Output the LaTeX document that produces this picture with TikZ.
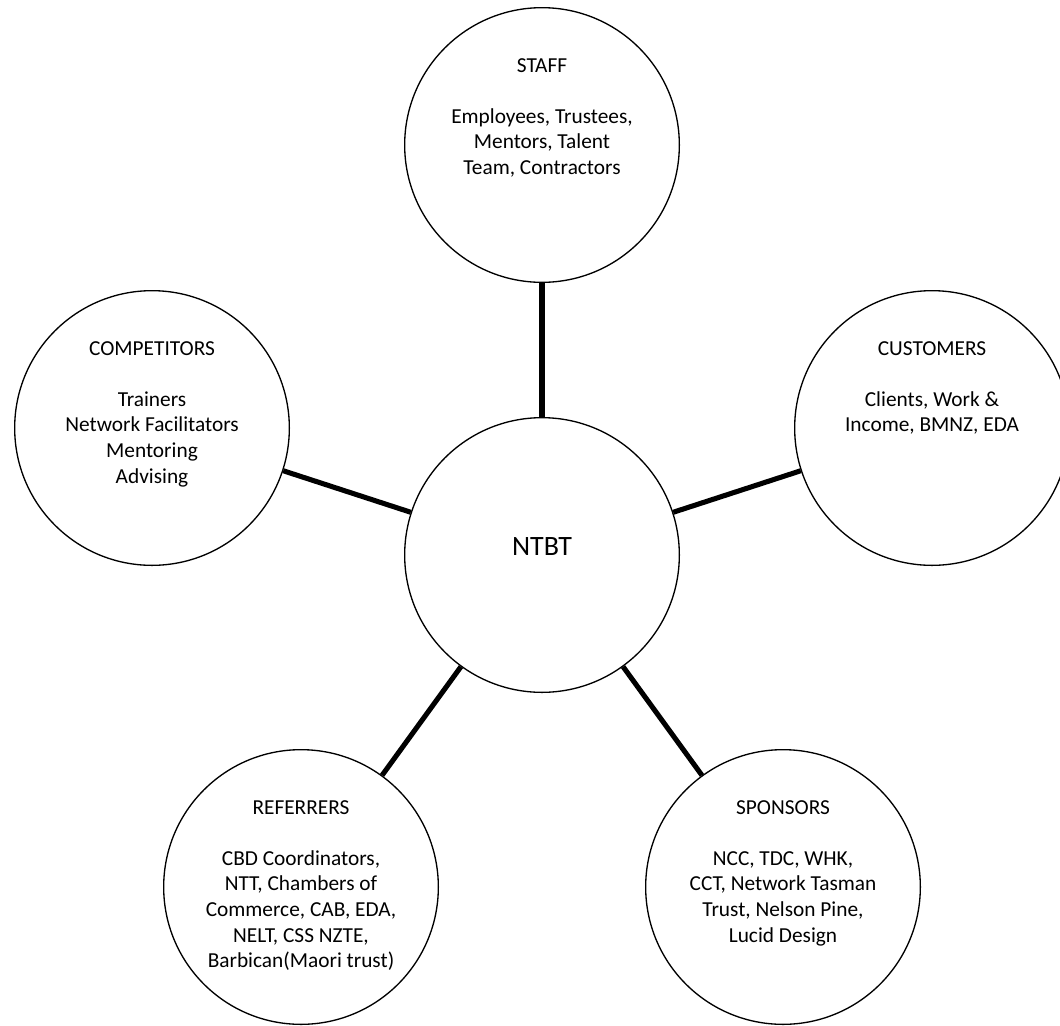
\documentclass[tikz,border=0pt]{standalone}
\usepackage{fontspec}
\setmainfont{Carlito}
\begin{document}
\begin{tikzpicture}[x=0.75pt,y=-0.75pt,
  bubble/.style={draw, circle, line width=1pt, minimum size=206pt, inner sep=0pt},
  conn/.style={line width=3.8pt},
  bodytext/.style={anchor=north, inner sep=0pt, align=center, font=\fontsize{16}{19.2}\selectfont},
  hubtext/.style={inner sep=0pt, font=\fontsize{21}{25}\selectfont}
]
\useasboundingbox (0,0) rectangle (1060,1025);
\begin{scope}
\clip (0,0) rectangle (1060,1025);
\node[bubble] (ntbt) at (542,555) {};
\node[bubble] (staff) at (542,145) {};
\node[bubble] (comp) at (152,428) {};
\node[bubble] (cust) at (932,428) {};
\node[bubble] (ref) at (301,887) {};
\node[bubble] (spon) at (783,887) {};
\end{scope}

\node[hubtext] (ntbtT) at (542,547) {NTBT};
\node[bodytext] (staffT) at (542,58) {STAFF\\[19.2pt]Employees, Trustees,\\Mentors, Talent\\Team, Contractors};
\node[bodytext] (compT) at (152,341) {COMPETITORS\\[19.2pt]Trainers\\Network Facilitators\\Mentoring\\Advising};
\node[bodytext] (custT) at (932,341) {CUSTOMERS\\[19.2pt]Clients, Work \&\\Income, BMNZ, EDA};
\node[bodytext] (refT) at (301,800) {REFERRERS\\[19.2pt]CBD Coordinators,\\NTT, Chambers of\\Commerce, CAB, EDA,\\NELT, CSS NZTE,\\Barbican(Maori trust)};
\node[bodytext] (sponT) at (783,800) {SPONSORS\\[19.2pt]NCC, TDC, WHK,\\CCT, Network Tasman\\Trust, Nelson Pine,\\Lucid Design};

\draw[conn] (ntbt) -- (staff);
\draw[conn] (ntbt) -- (comp);
\draw[conn] (ntbt) -- (cust);
\draw[conn] (ntbt) -- (ref);
\draw[conn] (ntbt) -- (spon);
\end{tikzpicture}
\end{document}
